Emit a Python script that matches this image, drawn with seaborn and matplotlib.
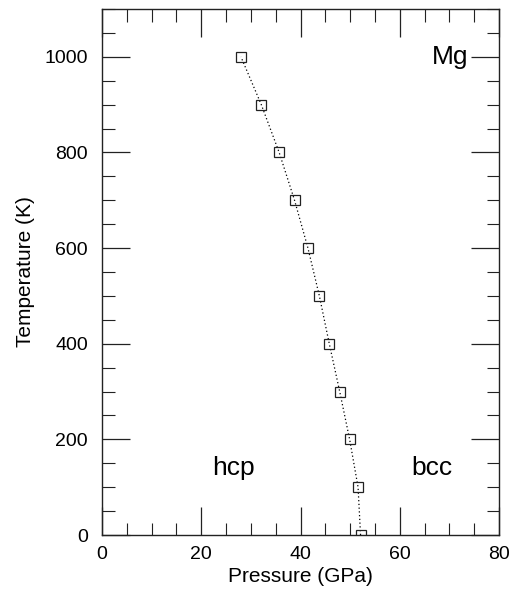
import matplotlib
matplotlib.use("Agg")
import matplotlib.pyplot as plt
from matplotlib.ticker import MultipleLocator
import seaborn as sns
import pandas as pd

# Data
temperature = [0, 100, 200, 300, 400, 500, 600, 700, 800, 900, 1000]
pressure = [52.1, 51.6, 49.9, 47.9, 45.8, 43.8, 41.5, 38.8, 35.7, 32.1, 28.0]
x_ticks = [0, 20, 40, 60, 80]
y_ticks = [0, 200, 400, 600, 800, 1000]

sns.set_theme(style="ticks")
plt.rcParams['font.family'] = ['Liberation Sans', 'DejaVu Sans']
plt.rcParams['text.color'] = 'black'
plt.rcParams['axes.labelcolor'] = 'black'

df = pd.DataFrame({"Pressure (GPa)": pressure, "Temperature (K)": temperature})

fig = plt.figure(figsize=(5.21, 5.99), dpi=100)
ax = fig.add_axes([102/521, 1 - 535/599, (499-102)/521, (535-9)/599])

sns.lineplot(data=df, x="Pressure (GPa)", y="Temperature (K)", sort=False,
             estimator=None, ax=ax, color="black", linestyle=(0, (1, 2)),
             linewidth=0.9, marker="s", markersize=7, markerfacecolor="none",
             markeredgecolor="#222222", markeredgewidth=0.9)

ax.set_xlim(0, 80)
ax.set_ylim(0, 1100)
ax.set_xticks(x_ticks)
ax.set_yticks(y_ticks)
ax.xaxis.set_minor_locator(MultipleLocator(5))
ax.yaxis.set_minor_locator(MultipleLocator(50))
ax.tick_params(which="both", direction="in", top=True, right=True,
               colors="#222222", labelcolor="black", labelsize=14)
ax.tick_params(which="major", length=20, width=0.9, pad=10)
ax.tick_params(which="minor", length=9, width=0.8)
ax.tick_params(axis="x", which="major", pad=8)
for s in ax.spines.values():
    s.set_linewidth(1.0)
    s.set_color("#222222")

ax.set_xlabel("Pressure (GPa)", fontsize=15, labelpad=3)
ax.set_ylabel("Temperature (K)", fontsize=15, labelpad=7)

ax.text(70.2, 986, "Mg", fontsize=19, ha="center", va="baseline")
ax.text(26.4, 126, "hcp", fontsize=19, ha="center", va="baseline")
ax.text(66.5, 126, "bcc", fontsize=19, ha="center", va="baseline")

fig.savefig("out.png", dpi=100)
